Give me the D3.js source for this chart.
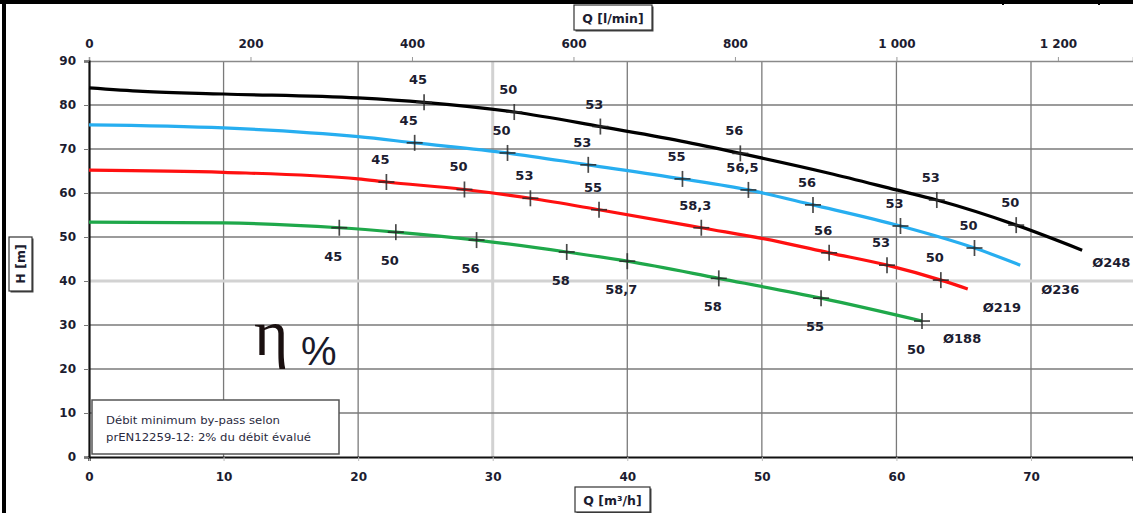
<!DOCTYPE html>
<html>
<head>
<meta charset="utf-8">
<script src="https://cdn.jsdelivr.net/npm/d3@7/dist/d3.min.js"></script>
<style>
  html, body { margin: 0; padding: 0; background: #fff; }
  svg { display: block; }
</style>
</head>
<body>
<svg id="chart" width="1133" height="513"></svg>
<script>
// ---------------- DATA ----------------
const xTicksM3h = [0, 10, 20, 30, 40, 50, 60, 70];
const xTicksLmin = [0, 200, 400, 600, 800, 1000, 1200];
const yTicks = [0, 10, 20, 30, 40, 50, 60, 70, 80, 90];

// Pump curves (Q m³/h, H m)
const curveNames = ["Ø248", "Ø236", "Ø219", "Ø188"];
const q248 = [0, 4, 10, 20, 24.9, 31.6, 38, 44, 48.4, 55, 60, 63, 68.9, 73.8];
const h248 = [83.9, 83.1, 82.5, 81.6, 80.6, 78.4, 75.1, 71.8, 69.0, 64.5, 60.7, 58.4, 52.7, 47.0];
const q236 = [0, 10, 20, 24.2, 31.1, 37.1, 44.1, 49, 53.8, 60.3, 65.8, 69.2];
const h236 = [75.5, 74.8, 72.8, 71.4, 69.1, 66.4, 63.2, 60.7, 57.3, 52.5, 47.5, 43.6];
const q219 = [0, 10, 20, 22.1, 27.9, 32.8, 37.9, 45.5, 51.3, 55, 59.3, 63.3, 65.3];
const h219 = [65.2, 64.7, 63.2, 62.5, 60.8, 58.8, 56.2, 52.1, 48.9, 46.4, 43.6, 40.2, 38.2];
const q188 = [0, 10, 18.6, 22.8, 28.8, 35.5, 40, 46.8, 54.4, 61.9];
const h188 = [53.4, 53.2, 52.1, 51.1, 49.3, 46.6, 44.5, 40.6, 36.1, 30.9];

// Efficiency markers (η %)
const eff248Q = [24.9, 31.6, 38, 48.4, 63, 68.9];
const eff248H = [80.6, 78.4, 75.1, 69.0, 58.4, 52.7];
const eff248L = ["45", "50", "53", "56", "53", "50"];
const eff236Q = [24.2, 31.1, 37.1, 44.1, 49, 53.8, 60.3, 65.8];
const eff236H = [71.4, 69.1, 66.4, 63.2, 60.7, 57.3, 52.5, 47.5];
const eff236L = ["45", "50", "53", "55", "56,5", "56", "53", "50"];
const eff219Q = [22.1, 27.9, 32.8, 37.9, 45.5, 55, 59.3, 63.3];
const eff219H = [62.5, 60.8, 58.8, 56.2, 52.1, 46.4, 43.6, 40.2];
const eff219L = ["45", "50", "53", "55", "58,3", "56", "53", "50"];
const eff188Q = [18.6, 22.8, 28.8, 35.5, 40, 46.8, 54.4, 61.9];
const eff188H = [52.1, 51.1, 49.3, 46.6, 44.5, 40.6, 36.1, 30.9];
const eff188L = ["45", "50", "56", "58", "58,7", "58", "55", "50"];

const noteLines = ["Débit minimum by-pass selon", "prEN12259-12: 2% du débit évalué"];

// ---------------- STYLE / LAYOUT ----------------
const W = 1133, H = 513;
const plot = { left: 89, top: 61, bottom: 457, right: 1133 };
const q70px = 1031;
const xMax = 70 * (plot.right - plot.left) / (q70px - plot.left);
const colors = ["#000000", "#27aef0", "#ff1010", "#1fa84a"];
const labelOffsets = [[10, 17], [21, 29], [15, 23], [21, 22]]; // Ø label offset from curve end
const effBelow = [false, false, false, true];
const FONT = "'DejaVu Sans', Arial, sans-serif";
const textColor = "#1c1c30";

const svg = d3.select("#chart");
const x = d3.scaleLinear().domain([0, xMax]).range([plot.left, plot.right]);
const y = d3.scaleLinear().domain([0, 90]).range([plot.bottom, plot.top]);
const xL = d3.scaleLinear().domain([0, xMax * 1000 / 60]).range([plot.left, plot.right]);

// grid
const g = svg.append("g");
xTicksM3h.filter(d => d > 0).forEach(d => {
  const hl = d === 30;
  g.append("line").attr("x1", x(d)).attr("x2", x(d)).attr("y1", y(90)).attr("y2", y(0))
    .attr("stroke", hl ? "#d2d2d2" : "#7a7a7a").attr("stroke-width", hl ? 3 : 1.3);
});
yTicks.filter(d => d > 0 && d < 90).forEach(d => {
  const hl = d === 40;
  g.append("line").attr("x1", plot.left).attr("x2", plot.right).attr("y1", y(d)).attr("y2", y(d))
    .attr("stroke", hl ? "#d2d2d2" : "#7a7a7a").attr("stroke-width", hl ? 3 : 1.3);
});

// top axis (l/min)
const topAxis = d3.axisTop(xL).tickValues(xTicksLmin).tickSize(4).tickPadding(9)
  .tickFormat(d => d3.format(",")(d).replace(",", " "));
const ta = svg.append("g").attr("transform", `translate(0,${plot.top})`).call(topAxis);
ta.select(".domain").attr("stroke", "#8a8a8a").attr("stroke-width", 1.5);
ta.selectAll(".tick line").attr("stroke", "#999");
ta.selectAll("text").attr("font-family", FONT).attr("font-weight", "bold").attr("font-size", 12).attr("fill", textColor);

// bottom axis (m³/h)
const botAxis = d3.axisBottom(x).tickValues(xTicksM3h).tickSize(4).tickPadding(11).tickFormat(d3.format("d"));
const ba = svg.append("g").attr("transform", `translate(0,${plot.bottom})`).call(botAxis);
ba.select(".domain").attr("stroke", "#111").attr("stroke-width", 2.2);
ba.selectAll(".tick line").attr("stroke", "#bbb");
ba.selectAll("text").attr("font-family", FONT).attr("font-weight", "bold").attr("font-size", 12).attr("fill", textColor);

// left axis
const leftAxis = d3.axisLeft(y).tickValues(yTicks).tickSize(5).tickPadding(8).tickFormat(d3.format("d"));
const la = svg.append("g").attr("transform", `translate(${plot.left},0)`).call(leftAxis);
la.select(".domain").attr("stroke", "#111").attr("stroke-width", 2.2);
la.selectAll(".tick line").attr("stroke", "#777");
la.selectAll("text").attr("font-family", FONT).attr("font-weight", "bold").attr("font-size", 12).attr("fill", textColor);

// curves
const line = d3.line().x(d => x(d[0])).y(d => y(d[1])).curve(d3.curveMonotoneX);
const curves = [[q248, h248], [q236, h236], [q219, h219], [q188, h188]];
curves.forEach((c, i) => {
  const pts = c[0].map((q, k) => [q, c[1][k]]);
  svg.append("path").attr("d", line(pts)).attr("fill", "none")
    .attr("stroke", colors[i]).attr("stroke-width", 3.2).attr("stroke-linecap", "butt");
});

// efficiency markers
const effs = [[eff248Q, eff248H, eff248L], [eff236Q, eff236H, eff236L], [eff219Q, eff219H, eff219L], [eff188Q, eff188H, eff188L]];
effs.forEach((e, i) => {
  e[0].forEach((q, k) => {
    const px = x(q), py = y(e[1][k]);
    svg.append("line").attr("x1", px).attr("x2", px).attr("y1", py - 8).attr("y2", py + 8)
      .attr("stroke", "#2a2a2a").attr("stroke-width", 1.7).attr("opacity", 0.85);
    svg.append("line").attr("x1", px - 8).attr("x2", px + 8).attr("y1", py).attr("y2", py)
      .attr("stroke", "#2a2a2a").attr("stroke-width", 1.7).attr("opacity", 0.85);
    svg.append("text").attr("x", px - 6).attr("y", effBelow[i] ? py + 33 : py - 18)
      .attr("text-anchor", "middle").attr("font-family", FONT).attr("font-weight", "bold")
      .attr("font-size", 13).attr("fill", textColor).text(e[2][k]);
  });
});

// curve name labels
curves.forEach((c, i) => {
  const n = c[0].length - 1;
  svg.append("text").attr("x", x(c[0][n]) + labelOffsets[i][0]).attr("y", y(c[1][n]) + labelOffsets[i][1])
    .attr("font-family", FONT).attr("font-weight", "bold").attr("font-size", 13)
    .attr("fill", textColor).text(curveNames[i]);
});

// η %
svg.append("text").attr("x", 254).attr("y", 355).attr("font-family", "'Liberation Serif', 'DejaVu Serif', serif")
  .attr("font-size", 66).attr("fill", "#1a1010").text("η");
svg.append("text").attr("x", 301).attr("y", 365).attr("font-family", "'Liberation Sans', Arial, sans-serif")
  .attr("font-size", 40).attr("fill", "#1a1a2a").text("%");

// note box
svg.append("rect").attr("x", 92).attr("y", 400).attr("width", 247).attr("height", 54)
  .attr("fill", "#fff").attr("stroke", "#555").attr("stroke-width", 1.5);
noteLines.forEach((t, i) => {
  svg.append("text").attr("x", 106).attr("y", 424 + i * 17).attr("font-family", FONT)
    .attr("font-size", 10).attr("fill", "#2a2a40")
    .attr("textLength", i === 0 ? 174 : 205).attr("lengthAdjust", "spacingAndGlyphs").text(t);
});

// axis title boxes
function titleBox(bx, by, bw, bh, txt, rotate) {
  svg.append("rect").attr("x", bx + 1.5).attr("y", by + 1.5).attr("width", bw).attr("height", bh).attr("fill", "#444");
  svg.append("rect").attr("x", bx).attr("y", by).attr("width", bw).attr("height", bh)
    .attr("fill", "#fff").attr("stroke", "#333").attr("stroke-width", 1.2);
  const t = svg.append("text").attr("font-family", FONT).attr("font-weight", "bold").attr("font-size", 12.5)
    .attr("fill", textColor).attr("text-anchor", "middle").attr("dominant-baseline", "central").text(txt);
  const cx = bx + bw / 2, cy = by + bh / 2;
  if (rotate) t.attr("transform", `translate(${cx},${cy}) rotate(-90)`);
  else t.attr("x", cx).attr("y", cy + 0.5);
}
titleBox(574, 5, 78, 25, "Q [l/min]", false);
titleBox(575, 487, 75, 25, "Q [m³/h]", false);
titleBox(9, 237, 23, 54, "H [m]", true);

// outer frame
svg.append("line").attr("x1", 0).attr("x2", W).attr("y1", 2).attr("y2", 2).attr("stroke", "#000").attr("stroke-width", 4);
svg.append("line").attr("x1", 4).attr("x2", 4).attr("y1", 0).attr("y2", H).attr("stroke", "#000").attr("stroke-width", 4);
[1003, 1099].forEach(v => {
  svg.append("line").attr("x1", v).attr("x2", v).attr("y1", 0).attr("y2", 5).attr("stroke", "#000").attr("stroke-width", 2);
});
</script>
</body>
</html>
